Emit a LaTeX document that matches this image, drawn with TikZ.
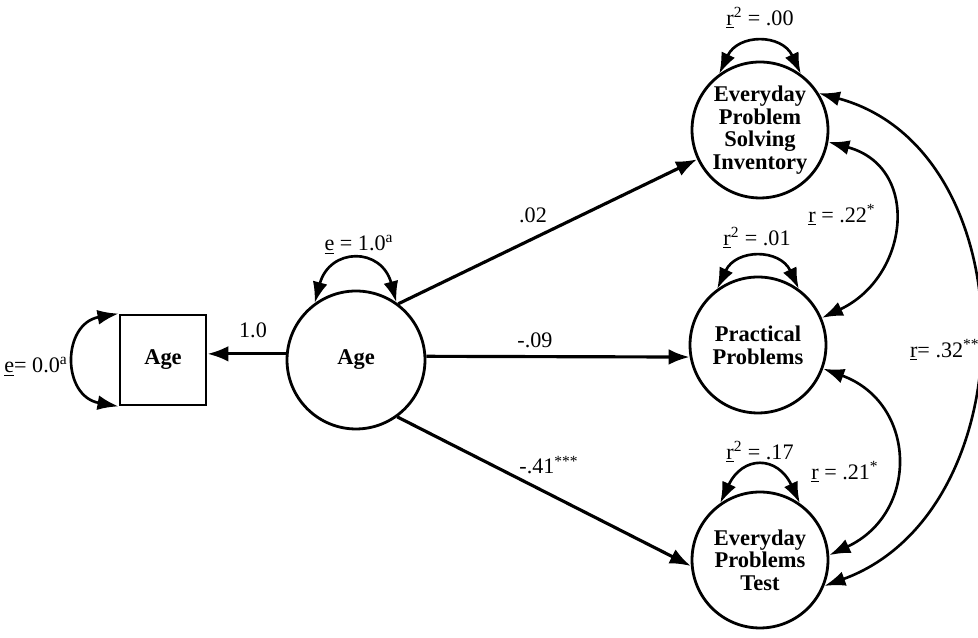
\documentclass[tikz,border=0pt]{standalone}
\usepackage{fontspec}
\setmainfont{Liberation Serif}
\usetikzlibrary{arrows.meta, calc}

\begin{document}
\begin{tikzpicture}[x = 0.02cm, y = 0.02cm,
        latent/.style = {draw, circle, line width = 1.6pt, minimum size = 2.72cm, inner sep = 0pt, align = center, font = \fontsize{12.8}{12.9}\selectfont\bfseries},
        observed/.style = {draw, rectangle, line width = 1.6pt, minimum width = 1.72cm, minimum height = 1.8cm, font = \fontsize{12.8}{12.9}\selectfont\bfseries},
        regpath/.style = {line width = 1.8pt, -{Latex[length = 12pt, width = 9pt]}},
        twoway/.style = {line width = 1.5pt, {Latex[length = 12pt, width = 8.5pt]}-{Latex[length = 12pt, width = 8.5pt]}},
        estimate/.style = {font = \fontsize{12.6}{12.6}\selectfont, inner sep = 1pt}]
            \useasboundingbox (0, 0) rectangle (978, 638);
            
            \node[observed] (agebox) at (163, 278) {Age};
            \node[latent, minimum size = 2.76cm] (agelatent) at (356, 278) {Age};
            \node[latent] (epsi) at (760, 508) {Everyday\\Problem\\Solving\\Inventory};
            \node[latent] (pp) at (758, 293) {Practical\\Problems};
            \node[latent] (ept) at (760, 78) {Everyday\\Problems\\Test};
            
            \draw[regpath](agelatent.175) -- (agelatent.175 -| agebox.east);
            \draw[regpath](agelatent.53) -- (epsi.205);
            \draw[regpath](agelatent.3) -- (pp.190);
            \draw[regpath](agelatent.-54) -- (ept.185);
            
            \draw[twoway](agebox.north west) to[out = 190, in = 170, looseness = 1.6] (agebox.south west);
            \draw[twoway](agelatent.126) to[out = 75, in = 105, looseness = 1.8] (agelatent.55);
            \draw[twoway](epsi.126) to[out = 65, in = 115, looseness = 1.4] (epsi.54);
            \draw[twoway](pp.126) to[out = 65, in = 115, looseness = 1.4] (pp.54);
            \draw[twoway](ept.125) to[out = 65, in = 115, looseness = 1.7] (ept.55);
            
            \draw[twoway](epsi.-10) to[out = -15, in = 25, looseness = 1.4] (pp.23);
            \draw[twoway](pp.-20) to[out = -20, in = 25, looseness = 1.37] (ept.4);
            \draw[twoway](epsi.32) to[out = -15, in = 20, looseness = 1.13] (ept.-22);
            
            \node[estimate] (boxvar) at (36, 271) {\underline{e}= 0.0\textsuperscript{a}};
            \node[estimate] (agepath) at (253, 308) {1.0};
            \node[estimate] (agevar) at (359, 393) {\underline{e} = 1.0\textsuperscript{a}};
            \node[estimate] (epsipath) at (533, 423) {.02};
            \node[estimate] (pppath) at (535, 298) {-.09};
            \node[estimate] (eptpath) at (549, 173) {-.41\textsuperscript{***}};
            \node[estimate] (epsivar) at (760, 620) {\underline{r}\textsuperscript{2} = .00};
            \node[estimate] (ppvar) at (757, 400) {\underline{r}\textsuperscript{2} = .01};
            \node[estimate] (eptvar) at (760, 186) {\underline{r}\textsuperscript{2} = .17};
            \node[estimate] (upcor) at (842, 423) {\underline{r} = .22\textsuperscript{*}};
            \node[estimate] (lowcor) at (845, 166) {\underline{r} = .21\textsuperscript{*}};
            \node[estimate, anchor = west] (outercor) at (908, 288) {\underline{r}= .32\textsuperscript{**}};
        \end{tikzpicture}
\end{document}
